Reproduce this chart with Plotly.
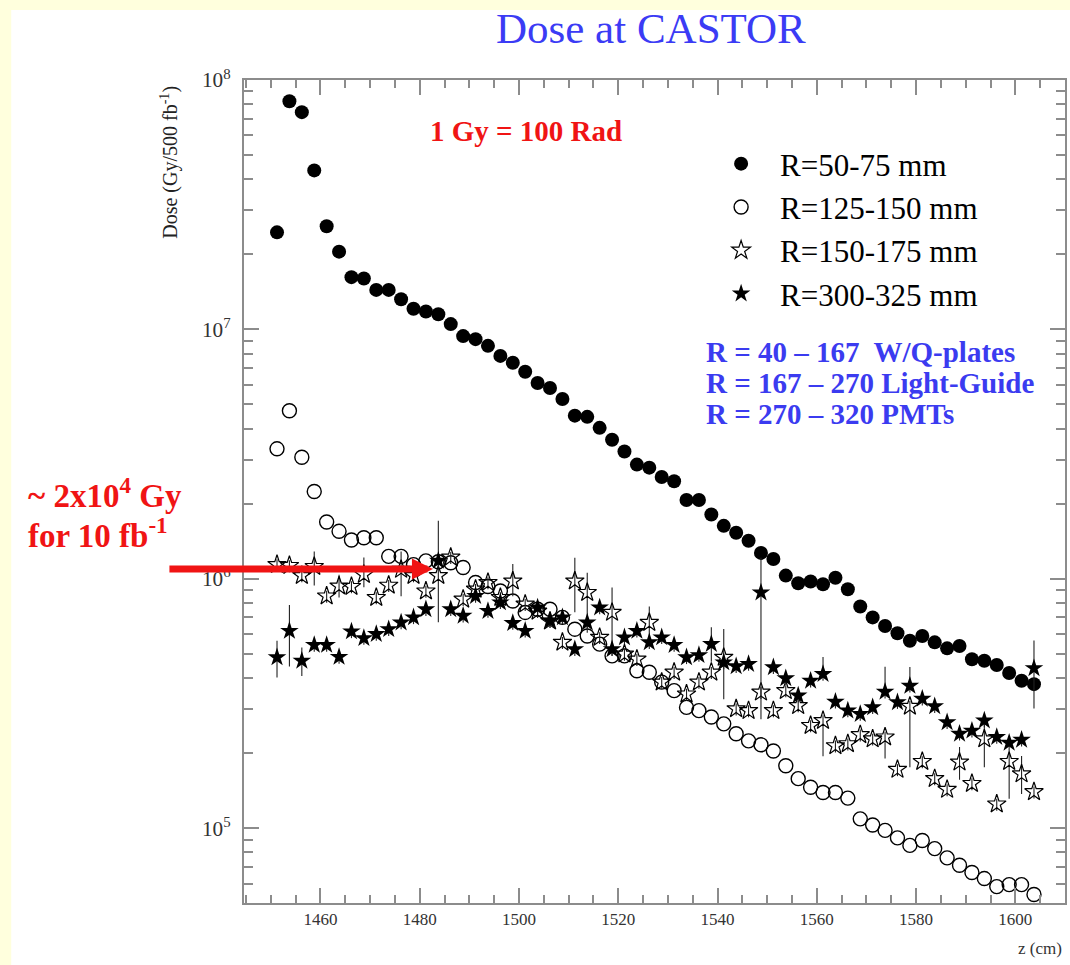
import plotly.graph_objects as go

# ---------------- data ----------------
z_cm = [1451.25, 1453.75, 1456.25, 1458.75, 1461.25, 1463.75, 1466.25, 1468.75, 1471.25, 1473.75,
        1476.25, 1478.75, 1481.25, 1483.75, 1486.25, 1488.75, 1491.25, 1493.75, 1496.25, 1498.75,
        1501.25, 1503.75, 1506.25, 1508.75, 1511.25, 1513.75, 1516.25, 1518.75, 1521.25, 1523.75,
        1526.25, 1528.75, 1531.25, 1533.75, 1536.25, 1538.75, 1541.25, 1543.75, 1546.25, 1548.75,
        1551.25, 1553.75, 1556.25, 1558.75, 1561.25, 1563.75, 1566.25, 1568.75, 1571.25, 1573.75,
        1576.25, 1578.75, 1581.25, 1583.75, 1586.25, 1588.75, 1591.25, 1593.75, 1596.25, 1598.75,
        1601.25, 1603.75]

dose_r50_75 = [2.45e7, 8.22e7, 7.43e7, 4.34e7, 2.59e7, 2.05e7, 1.62e7, 1.60e7, 1.44e7, 1.44e7,
               1.32e7, 1.21e7, 1.18e7, 1.15e7, 1.05e7, 9.40e6, 9.14e6, 8.59e6, 7.83e6, 7.35e6,
               6.76e6, 6.10e6, 5.82e6, 5.26e6, 4.51e6, 4.46e6, 4.03e6, 3.61e6, 3.24e6, 2.87e6,
               2.79e6, 2.56e6, 2.46e6, 2.07e6, 2.07e6, 1.81e6, 1.63e6, 1.53e6, 1.42e6, 1.27e6,
               1.20e6, 1.03e6, 9.59e5, 9.75e5, 9.51e5, 1.01e6, 9.08e5, 7.74e5, 7.00e5, 6.47e5,
               6.05e5, 5.64e5, 5.90e5, 5.56e5, 5.26e5, 5.38e5, 4.76e5, 4.69e5, 4.51e5, 4.19e5,
               3.90e5, 3.78e5]

dose_r125_150 = [3.32e6, 4.72e6, 3.07e6, 2.24e6, 1.69e6, 1.55e6, 1.43e6, 1.46e6, 1.46e6, 1.23e6,
                 1.23e6, 1.14e6, 1.18e6, 1.17e6, 1.16e6, 1.11e6, 9.66e5, 9.31e5, 8.93e5, 8.15e5,
                 7.33e5, 7.55e5, 7.55e5, 7.00e5, 6.28e5, 5.90e5, 5.47e5, 4.91e5, 4.91e5, 4.28e5,
                 4.22e5, 3.85e5, 3.56e5, 3.05e5, 2.96e5, 2.79e5, 2.62e5, 2.39e5, 2.24e5, 2.16e5,
                 2.04e5, 1.78e5, 1.58e5, 1.46e5, 1.39e5, 1.39e5, 1.32e5, 1.09e5, 1.03e5, 9.80e4,
                 9.14e4, 8.53e4, 8.93e4, 8.28e4, 7.60e4, 7.10e4, 6.64e4, 6.28e4, 5.83e4, 5.94e4,
                 5.94e4, 5.42e4]

dose_r150_175 = [1.14e6, 1.13e6, 1.03e6, 1.12e6, 8.53e5, 9.35e5, 9.31e5, 1.04e6, 8.41e5, 9.42e5,
                 1.09e6, 1.03e6, 8.93e5, 1.03e6, 1.22e6, 8.28e5, 9.08e5, 9.66e5, 8.41e5, 9.79e5,
                 7.91e5, 7.41e5, 6.76e5, 5.56e5, 9.79e5, 8.81e5, 5.82e5, 7.33e5, 4.99e5, 4.76e5,
                 6.68e5, 3.85e5, 4.22e5, 3.45e5, 3.85e5, 4.22e5, 4.84e5, 3.01e5, 2.96e5, 3.51e5,
                 2.96e5, 3.56e5, 3.10e5, 2.58e5, 2.70e5, 2.14e5, 2.18e5, 2.37e5, 2.28e5, 2.32e5,
                 1.72e5, 3.08e5, 1.85e5, 1.58e5, 1.43e5, 1.84e5, 1.51e5, 2.28e5, 1.25e5, 1.85e5,
                 1.65e5, 1.40e5]

dose_r300_325 = [4.84e5, 6.18e5, 4.69e5, 5.43e5, 5.43e5, 4.86e5, 6.15e5, 5.78e5, 6.00e5, 6.28e5,
                 6.68e5, 7.00e5, 7.55e5, 1.18e6, 7.55e5, 7.10e5, 8.53e5, 7.43e5, 8.04e5, 6.64e5,
                 6.18e5, 7.67e5, 6.78e5, 7.00e5, 5.22e5, 6.68e5, 7.67e5, 5.22e5, 5.82e5, 6.18e5,
                 5.56e5, 5.82e5, 5.42e5, 4.84e5, 4.94e5, 5.47e5, 4.62e5, 4.46e5, 4.55e5, 8.81e5,
                 4.42e5, 3.99e5, 3.40e5, 3.90e5, 4.15e5, 3.21e5, 2.96e5, 2.87e5, 3.05e5, 3.52e5,
                 3.20e5, 3.72e5, 3.30e5, 3.08e5, 2.66e5, 2.39e5, 2.46e5, 2.70e5, 2.32e5, 2.20e5,
                 2.26e5, 4.38e5]

# relative error bars (fraction of value), upper / lower
err_up_r150_175 = [0.05, 0.05, 0.05, 0.15, 0.05, 0.11, 0.05, 0.17, 0.05, 0.05,
                   0.18, 0.05, 0.05, 0.66, 0.05, 0.05, 0.05, 0.05, 0.05, 0.17,
                   0.05, 0.05, 0.05, 0.05, 0.24, 0.20, 0.05, 0.26, 0.05, 0.05,
                   0.16, 0.05, 0.05, 0.05, 0.05, 0.05, 0.30, 0.05, 0.05, 0.05,
                   0.05, 0.05, 0.05, 0.05, 0.05, 0.05, 0.05, 0.05, 0.05, 0.05,
                   0.05, 0.05, 0.05, 0.05, 0.05, 0.15, 0.05, 0.24, 0.05, 0.12,
                   0.18, 0.05]
err_dn_r150_175 = [0.06, 0.06, 0.06, 0.16, 0.06, 0.10, 0.06, 0.11, 0.06, 0.06,
                   0.22, 0.06, 0.06, 0.35, 0.06, 0.06, 0.06, 0.06, 0.06, 0.13,
                   0.06, 0.06, 0.06, 0.06, 0.25, 0.31, 0.06, 0.33, 0.06, 0.06,
                   0.14, 0.06, 0.06, 0.06, 0.06, 0.06, 0.32, 0.06, 0.06, 0.06,
                   0.06, 0.06, 0.06, 0.06, 0.28, 0.06, 0.06, 0.06, 0.06, 0.18,
                   0.06, 0.43, 0.06, 0.06, 0.06, 0.15, 0.06, 0.23, 0.06, 0.29,
                   0.17, 0.06]
err_up_r300_325 = [0.165, 0.27, 0.13, 0.05, 0.05, 0.05, 0.05, 0.05, 0.05, 0.05,
                   0.05, 0.05, 0.05, 0.05, 0.05, 0.05, 0.05, 0.05, 0.05, 0.05,
                   0.05, 0.05, 0.05, 0.05, 0.05, 0.05, 0.05, 0.05, 0.05, 0.05,
                   0.05, 0.05, 0.05, 0.05, 0.05, 0.17, 0.05, 0.05, 0.05, 0.38,
                   0.05, 0.05, 0.05, 0.05, 0.17, 0.05, 0.05, 0.05, 0.05, 0.26,
                   0.05, 0.19, 0.05, 0.05, 0.05, 0.05, 0.05, 0.05, 0.05, 0.05,
                   0.05, 0.29]
err_dn_r300_325 = [0.17, 0.28, 0.13, 0.06, 0.06, 0.06, 0.06, 0.06, 0.06, 0.06,
                   0.06, 0.06, 0.06, 0.06, 0.06, 0.06, 0.06, 0.06, 0.06, 0.06,
                   0.06, 0.06, 0.06, 0.06, 0.06, 0.06, 0.06, 0.06, 0.06, 0.06,
                   0.06, 0.06, 0.06, 0.06, 0.06, 0.15, 0.06, 0.06, 0.06, 0.69,
                   0.06, 0.06, 0.06, 0.06, 0.06, 0.06, 0.06, 0.06, 0.06, 0.06,
                   0.06, 0.06, 0.06, 0.06, 0.06, 0.06, 0.06, 0.06, 0.06, 0.06,
                   0.06, 0.31]

series_names = ["R=50-75 mm", "R=125-150 mm", "R=150-175 mm", "R=300-325 mm"]
x_tick_vals = [1460, 1480, 1500, 1520, 1540, 1560, 1580, 1600]

# ---------------- layout helpers ----------------
W, H = 1070, 965
ML, MR, MT, MB = 243.5, 3, 80, 62
PW, PH = W - ML - MR, H - MT - MB
SERIF = "Liberation Serif, Times New Roman, serif"
YELLOW = "#FFFFDD"


def px_x(px):
    return (px - ML) / PW


def px_y(py):
    return (H - MB - py) / PH


def errs(vals, up, dn):
    return dict(type="data", symmetric=False,
                array=[v * f for v, f in zip(vals, up)],
                arrayminus=[v * f for v, f in zip(vals, dn)],
                color="#222222", thickness=1.1, width=0)


fig = go.Figure()
fig.add_trace(go.Scatter(x=z_cm, y=dose_r50_75, mode="markers", name=series_names[0],
                         legendgroup="a",
                         marker=dict(symbol="circle", size=14, color="black",
                                     line=dict(width=0))))
fig.add_trace(go.Scatter(x=z_cm, y=dose_r125_150, mode="markers", name=series_names[1],
                         legendgroup="b",
                         marker=dict(symbol="circle-open", size=14, color="black",
                                     line=dict(width=1.4, color="black"))))
fig.add_trace(go.Scatter(x=z_cm, y=dose_r150_175, mode="markers", name=series_names[2],
                         legendgroup="c",
                         error_y=errs(dose_r150_175, err_up_r150_175, err_dn_r150_175),
                         marker=dict(symbol="star-open", size=14, color="black",
                                     line=dict(width=1.2, color="black"))))
fig.add_trace(go.Scatter(x=z_cm, y=dose_r300_325, mode="markers", name=series_names[3],
                         legendgroup="d",
                         error_y=errs(dose_r300_325, err_up_r300_325, err_dn_r300_325),
                         marker=dict(symbol="star", size=14, color="black",
                                     line=dict(width=0))))

axis_common = dict(showline=True, linecolor="#8c8c8c", linewidth=2, mirror="allticks",
                   ticks="inside", ticklen=15, tickwidth=1.5, tickcolor="#8c8c8c",
                   showgrid=False, zeroline=False,
                   tickfont=dict(family=SERIF, size=17, color="#333333"))

fig.update_layout(
    width=W, height=H,
    margin=dict(l=ML, r=MR, t=MT, b=MB, pad=0),
    paper_bgcolor="white", plot_bgcolor="white",
    showlegend=True,
    legend=dict(x=px_x(703), y=px_y(137), xanchor="left", yanchor="top",
                bgcolor="rgba(0,0,0,0)", font=dict(family=SERIF, size=31, color="black"),
                itemsizing="trace", itemwidth=68, tracegroupgap=0),
    xaxis=dict(axis_common, range=[1444.6, 1610.0], tickvals=x_tick_vals,
               minor=dict(ticks="inside", ticklen=8, tickwidth=1.5, tickcolor="#8c8c8c",
                          dtick=5, tick0=1445)),
    yaxis=dict(axis_common, type="log", range=[4.7, 8.0], dtick=1, exponentformat="power",
               ticklabelstandoff=8,
               minor=dict(ticks="inside", ticklen=9, tickwidth=1.5, tickcolor="#8c8c8c",
                          dtick="D1")),
    shapes=[
        # pale yellow page border (left and top strips)
        dict(type="rect", xref="paper", yref="paper", layer="below",
             x0=px_x(-5), x1=px_x(10), y0=px_y(975), y1=px_y(-5),
             fillcolor=YELLOW, line=dict(width=0)),
        dict(type="rect", xref="paper", yref="paper", layer="below",
             x0=px_x(-5), x1=px_x(1080), y0=px_y(10), y1=px_y(-5),
             fillcolor=YELLOW, line=dict(width=0)),
    ],
)

ann = []
ann.append(dict(text="Dose at CASTOR", x=px_x(652), y=px_y(28), xanchor="center", yanchor="middle",
                font=dict(family=SERIF, size=43, color="#3B3BF5")))
ann.append(dict(text="Dose (Gy/500 fb<sup>-1</sup>)", x=px_x(168), y=px_y(162), textangle=-90,
                xanchor="center", yanchor="middle",
                font=dict(family=SERIF, size=20, color="#222222")))
ann.append(dict(text="z (cm)", x=px_x(1066), y=px_y(948), xanchor="right", yanchor="middle",
                font=dict(family=SERIF, size=17, color="#333333")))
ann.append(dict(text="<b>1 Gy = 100 Rad</b>", x=px_x(428), y=px_y(131), xanchor="left",
                yanchor="middle", font=dict(family=SERIF, size=29, color="#F01414")))
ann.append(dict(text="<b>~ 2x10<sup>4</sup> Gy</b>", x=px_x(25), y=px_y(493), xanchor="left",
                yanchor="middle", font=dict(family=SERIF, size=33, color="#F01414")))
ann.append(dict(text="<b>for 10 fb<sup>-1</sup></b>", x=px_x(25), y=px_y(533), xanchor="left",
                yanchor="middle", font=dict(family=SERIF, size=33, color="#F01414")))
for txt, yy in [("R = 40 \u2013 167  W/Q-plates", 352),
                ("R = 167 \u2013 270 Light-Guide", 383),
                ("R = 270 \u2013 320 PMTs", 414)]:
    ann.append(dict(text="<b>" + txt + "</b>", x=px_x(705), y=px_y(yy), xanchor="left",
                    yanchor="middle", font=dict(family=SERIF, size=29, color="#3B3BF0")))
# red arrow
ann.append(dict(text="", x=px_x(433), y=px_y(569), ax=-265, ay=0, axref="pixel", ayref="pixel",
                showarrow=True, arrowcolor="#F01414", arrowwidth=7, arrowhead=2, arrowsize=0.6))
for a in ann:
    a.setdefault("xref", "paper")
    a.setdefault("yref", "paper")
    a.setdefault("showarrow", False)
fig.update_layout(annotations=ann)

fig.write_html("out.html", config={"displayModeBar": False},
               post_script="document.body.style.margin='0px';"
                           "document.body.style.background='white';")
